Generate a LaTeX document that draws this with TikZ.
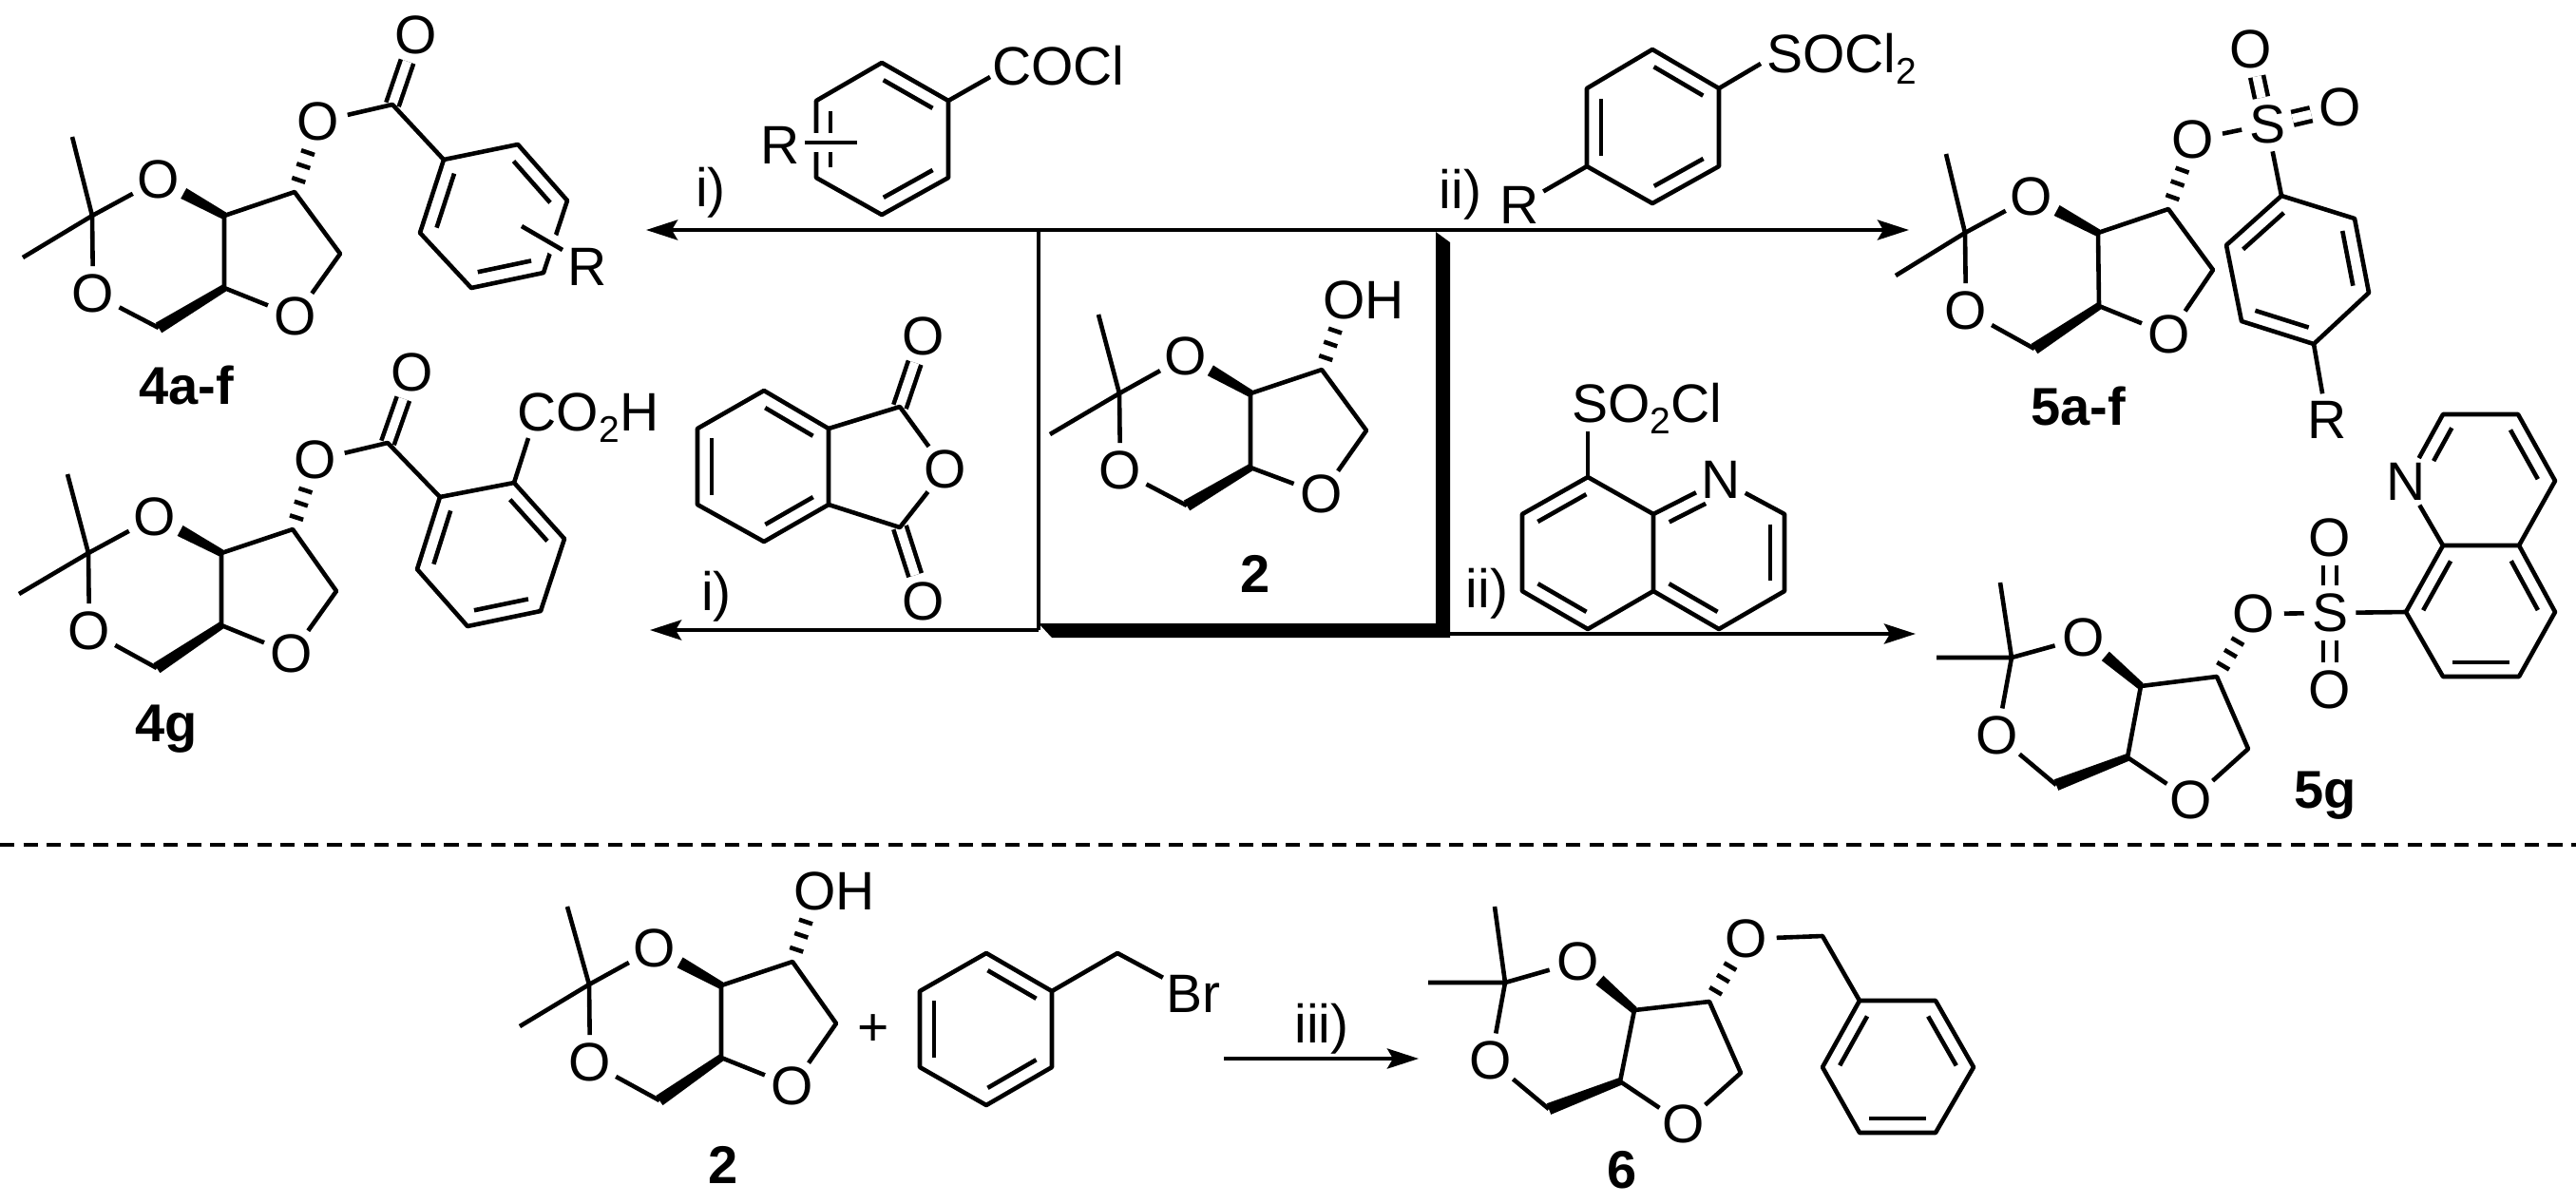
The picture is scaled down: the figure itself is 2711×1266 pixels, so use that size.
\documentclass[tikz,border=0pt]{standalone}
\usepackage{fontspec}
\setmainfont{Liberation Sans}
\usetikzlibrary{arrows.meta,calc,shapes.geometric}

\newcommand{\atomfont}{\fontsize{28.5}{32}\selectfont}
\newcommand{\subdigit}[1]{\raisebox{-6pt}{\fontsize{19.5}{21}\selectfont #1}}

\tikzset{
  bond/.style={line width=2.3pt, line join=round},
  dblbond/.style={double, double distance=4.7pt, line width=2.3pt},
  halo/.style={preaction={draw, white, line width=10pt}},
  rxn/.style={line width=2.2pt},
  tip/.tip={Stealth[length=16.5pt, width=10.5pt, inset=3pt]},
  atom/.style={ellipse, inner sep=0pt, font=\atomfont},
  grp/.style={anchor=base, inner sep=0pt, font=\atomfont},
  cmpd/.style={anchor=base, inner sep=0pt, font=\fontsize{28}{32}\selectfont\bfseries},
}

\newcommand{\wedgebond}[2]{%
  \fill ($(#1)!2pt!90:(#2)$) -- ($(#2)!3.1pt!-90:(#1)$) -- ($(#2)!3.1pt!90:(#1)$) -- ($(#1)!2pt!-90:(#2)$) -- cycle;}
\newcommand{\hashbond}[2]{%
  \foreach \f in {.17,.37,.56}
    \draw[bond] ($(#1)!\f!(#2)!3.7pt!90:(#2)$) -- ($(#1)!\f!(#2)!3.7pt!-90:(#2)$);}
\newcommand{\innerbond}[3][.13/.87]{%
  \foreach \s/\e in {#1}
    \draw[bond] ($(#2)!\s!(#3)!7.5pt!-90:(#3)$) -- ($(#2)!\e!(#3)!7.5pt!-90:(#3)$);}
\newcommand{\ringpath}[2]{%
  \foreach \pos [count=\i] in {#2} \path \pos coordinate (#1\i);
  \draw[bond] (#11) -- (#12) -- (#13) -- (#14) -- (#15) -- (#16) -- cycle;}
\newcommand{\ring}[2]{%
  \ringpath{#1}{#2}
  \innerbond{#11}{#12}
  \innerbond{#13}{#14}
  \innerbond{#15}{#16}}
% vertices: Me, Me, CMe2, O, O, CH2, CH, CH, CHX, CH2, O
\newcommand{\ketal}[2]{%
  \foreach \pos [count=\i] in {#2} \path \pos coordinate (#1v\i);
  \node[atom] (#1ot) at (#1v4) {O};
  \node[atom] (#1ob) at (#1v5) {O};
  \node[atom] (#1of) at (#1v11) {O};
  \coordinate (#1w) at ($(#1v8)!.62!(#1ot)$);
  \draw[bond] (#1v1) -- (#1v3) -- (#1v2) (#1v3) -- (#1ot) (#1v3) -- (#1ob) (#1ob) -- (#1v6);
  \draw[bond] (#1v7) -- (#1v8) -- (#1v9) -- (#1v10) -- (#1of) -- (#1v7);
  \wedgebond{#1v8}{#1w}
  \wedgebond{#1v7}{#1v6}}

\begin{document}
\begin{tikzpicture}[x=0.5pt, y=-0.5pt]
    \useasboundingbox (0,0) rectangle (2711,1266);

    % 4a-f
    \ketal{m1}{(76,144),(24,271),(97,227),(167,189),(98,309),(167,345),(236,303),(236,227),(310,202),(358,267),(311,333)}
    \node[atom] (m1or) at (335,128) {O};
    \node[atom] (m1oc) at (438,37) {O};
    \coordinate (m1c) at (413,110);
    \hashbond{m1v9}{m1or}
    \ring{m1r}{(545,152),(597,211),(572,287),(496,303),(442,245),(467,168)}
    \draw[dblbond] (m1c) -- (m1oc);
    \draw[bond] (m1or) -- (m1c) -- (m1r6);
    \coordinate (m1ra) at (549,238);
    \coordinate (m1rb) at (592,263);
    \draw[bond, halo] (m1ra) -- (m1rb);
    \node[atom] (m1rr) at (618,281) {R};
    \node[cmpd] (lbl4af) at (196,425) {4a-f};

    % 4g
    \ketal{m3}{(71,499),(20,625),(93,582),(163,544),(94,664),(165,703),(233,658),(233,582),(308,557),(354,622),(307,688)}
    \node[atom] (m3or) at (332,484) {O};
    \node[atom] (m3oc) at (434,392) {O};
    \coordinate (m3c) at (408,466);
    \hashbond{m3v9}{m3or}
    \ring{m3r}{(541,508),(594,567),(569,643),(492,659),(439,599),(463,523)}
    \draw[dblbond] (m3c) -- (m3oc);
    \draw[bond] (m3or) -- (m3c) -- (m3r6);
    \node[grp] (m3acid) at (619,453) {CO\subdigit{2}H};
    \coordinate (m3end) at (556,461);
    \draw[bond] (m3r1) -- (m3end);
    \node[cmpd] (lbl4g) at (175,780) {4g};

    % 2, in the frame
    \ketal{m2}{(1156,331),(1105,457),(1178,414),(1248,375),(1179,495),(1249,532),(1316,492),(1316,414),(1391,389),(1438,453),(1391,520)}
    \node[grp] (m2oh) at (1435,335) {OH};
    \coordinate (m2o) at (1416,316);
    \hashbond{m2v9}{m2o}
    \node[cmpd] (lbl2) at (1321,623) {2};

    % reagents above the frame
    \ring{ra}{(928,66),(998,106),(998,187),(928,226),(859,187),(859,106)}
    \node[grp] (racocl) at (1114,89) {COCl};
    \coordinate (raend) at (1042,81);
    \draw[bond] (ra2) -- (raend);
    \node[atom] (rar) at (821,153) {R};
    \coordinate (raa) at (847,150);
    \coordinate (rab) at (902,150);
    \draw[bond, halo] (raa) -- (rab);

    \ring{rb}{(1739,52),(1809,93),(1809,175),(1739,214),(1670,175),(1670,93)}
    \node[grp] (rbsocl) at (1938,76) {SOCl\subdigit{2}};
    \coordinate (rbend) at (1853,67);
    \draw[bond] (rb2) -- (rbend);
    \node[atom] (rbr) at (1599,216) {R};
    \draw[bond] (rb5) -- (rbr);

    % phthalic anhydride
    \ring{rc}{(804,411),(872,451),(872,531),(804,570),(734,531),(734,451)}
    \node[atom] (rcot) at (972,354) {O};
    \node[atom] (rcob) at (972,633) {O};
    \node[atom] (rco) at (995,494) {O};
    \coordinate (rcct) at (947,428);
    \coordinate (rccb) at (947,555);
    \draw[dblbond] (rcct) -- (rcot);
    \draw[dblbond] (rccb) -- (rcob);
    \draw[bond] (rc2) -- (rcct) -- (rco) -- (rccb) -- (rc3);

    % quinoline sulfonyl chloride
    \ringpath{rd}{(1671,502),(1740,541),(1740,622),(1671,662),(1602,622),(1602,541)}
    \innerbond{rd4}{rd5}
    \innerbond{rd6}{rd1}
    \node[atom] (rdn) at (1811,505) {N};
    \coordinate (rdc3) at (1878,541);
    \coordinate (rdc4) at (1878,622);
    \coordinate (rdc5) at (1809,662);
    \draw[bond] (rd2) -- (rdn) -- (rdc3) -- (rdc4) -- (rdc5) -- (rd3);
    \innerbond[.14/.68]{rd2}{rdn}
    \innerbond{rdc3}{rdc4}
    \innerbond{rdc5}{rd3}
    \node[grp] (rdso) at (1733,444) {SO\subdigit{2}Cl};
    \coordinate (rdend) at (1671,454);
    \draw[bond] (rd1) -- (rdend);

    % 5a-f
    \ketal{m4}{(2048,162),(1995,290),(2068,245),(2138,207),(2069,327),(2141,367),(2209,322),(2208,245),(2282,220),(2329,284),(2283,352)}
    \node[atom] (m4or) at (2308,147) {O};
    \node[atom] (m4s) at (2386,131) {S};
    \node[atom] (m4ot) at (2369,52) {O};
    \node[atom] (m4oe) at (2463,113) {O};
    \hashbond{m4v9}{m4or}
    \ring{m4r}{(2478,230),(2493,308),(2435,362),(2359,338),(2343,258),(2401,206)}
    \draw[dblbond] (m4s) -- (m4ot);
    \draw[dblbond] (m4s) -- (m4oe);
    \draw[bond] (m4or) -- (m4s) -- (m4r6);
    \node[atom] (m4rr) at (2449,442) {R};
    \draw[bond] (m4r3) -- (m4rr);
    \node[cmpd] (lbl5af) at (2187,447) {5a-f};

    % 5g
    \ketal{m5}{(2105,613),(2038,692),(2117,692),(2193,671),(2102,774),(2164,826),(2239,797),(2253,722),(2333,712),(2366,788),(2306,842)}
    \node[atom] (m5or) at (2372,646) {O};
    \node[atom] (m5s) at (2452,645) {S};
    \node[atom] (m5ot) at (2452,566) {O};
    \node[atom] (m5ob) at (2452,726) {O};
    \hashbond{m5v9}{m5or}
    \ring{m5r}{(2532,644),(2571,574),(2651,574),(2689,644),(2651,712),(2571,712)}
    \draw[dblbond] (m5s) -- (m5ot);
    \draw[dblbond] (m5s) -- (m5ob);
    \draw[bond] (m5or) -- (m5s) -- (m5r1);
    \node[atom] (m5n) at (2532,507) {N};
    \coordinate (m5c2) at (2571,436);
    \coordinate (m5c3) at (2650,436);
    \coordinate (m5c4) at (2689,506);
    \draw[bond] (m5r2) -- (m5n) -- (m5c2) -- (m5c3) -- (m5c4) -- (m5r3);
    \innerbond[.41/.9]{m5n}{m5c2}
    \innerbond{m5c3}{m5c4}
    \node[cmpd] (lbl5g) at (2447,850) {5g};

    % frame and arrows
    \coordinate (tipa) at (680,242);
    \coordinate (tipb) at (2009,242);
    \coordinate (tipc) at (684,663);
    \coordinate (tipd) at (2016,667);
    \coordinate (framea) at (1093,242);
    \coordinate (frameb) at (1093,663);
    \coordinate (framec) at (1526,667);
    \draw[rxn, {tip}-{tip}] (tipa) -- (tipb);
    \draw[rxn] (framea) -- (frameb);
    \draw[rxn, -{tip}] (frameb) -- (tipc);
    \draw[rxn, -{tip}] (framec) -- (tipd);
    \fill (1511,244) -- (1526,255) -- (1526,671) -- (1107,671) -- (1093,656) -- (1511,656) -- cycle;
    \node[grp] (cond1) at (748,217) {i)};
    \node[grp] (cond2) at (1537,219) {ii)};
    \node[grp] (cond3) at (754,642) {i)};
    \node[grp] (cond4) at (1565,639) {ii)};

    % dashed separator
    \coordinate (sepa) at (0,889);
    \coordinate (sepb) at (2711,889);
    \draw[line width=1.7pt, dash pattern=on 7.6pt off 4.7pt] (sepa) -- (sepb);

    % lower scheme
    \ketal{m6}{(597,954),(547,1080),(620,1036),(689,998),(621,1118),(694,1158),(759,1113),(759,1037),(834,1012),(880,1077),(834,1143)}
    \node[grp] (m6oh) at (878,957) {OH};
    \coordinate (m6o) at (859,937);
    \hashbond{m6v9}{m6o}
    \node[cmpd] (lbl2b) at (761,1245) {2};
    \node[atom] (plus) at (919,1084) {+};
    \ring{re}{(1038,1003),(1107,1043),(1107,1123),(1038,1163),(968,1123),(968,1043)}
    \coordinate (rech) at (1176,1003);
    \node[atom] (rebr) at (1256,1046) {Br};
    \draw[bond] (re2) -- (rech) -- (rebr);
    \coordinate (tipe) at (1288,1114);
    \coordinate (tipf) at (1493,1114);
    \draw[rxn, -{tip}] (tipe) -- (tipf);
    \node[grp] (cond5) at (1391,1097) {iii)};

    \ketal{m7}{(1573,954),(1503,1034),(1584,1034),(1661,1012),(1569,1116),(1630,1167),(1705,1138),(1720,1063),(1799,1054),(1832,1129),(1772,1183)}
    \node[atom] (m7or) at (1838,988) {O};
    \hashbond{m7v9}{m7or}
    \coordinate (m7ch) at (1918,985);
    \ring{m7r}{(1918,1123),(1957,1053),(2037,1053),(2077,1123),(2037,1192),(1957,1192)}
    \draw[bond] (m7or) -- (m7ch) -- (m7r2);
    \node[cmpd] (lbl6) at (1707,1250) {6};
\end{tikzpicture}
\end{document}
